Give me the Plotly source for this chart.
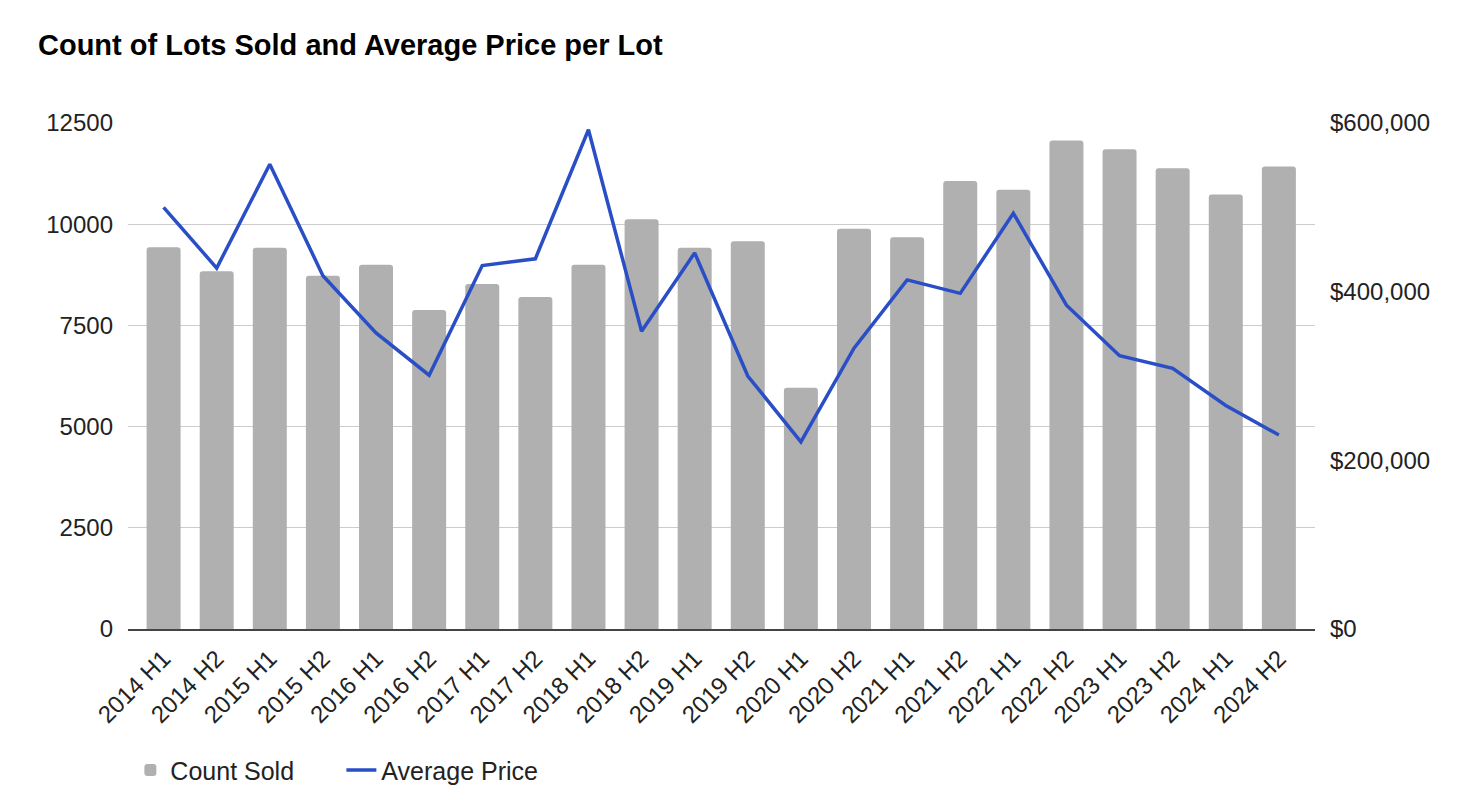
import plotly.graph_objects as go

categories = ["2014 H1", "2014 H2", "2015 H1", "2015 H2", "2016 H1", "2016 H2",
              "2017 H1", "2017 H2", "2018 H1", "2018 H2", "2019 H1", "2019 H2",
              "2020 H1", "2020 H2", "2021 H1", "2021 H2", "2022 H1", "2022 H2",
              "2023 H1", "2023 H2", "2024 H1", "2024 H2"]

count_sold = [9430, 8836, 9420, 8728, 9000, 7880,
              8523, 8200, 9000, 10121, 9420, 9580,
              5961, 9885, 9680, 11067, 10850, 12070,
              11850, 11380, 10735, 11425]

average_price = [500000, 428000, 551000, 419000, 351000, 301000,
                 431000, 439000, 592000, 353000, 446000, 300000,
                 222000, 333000, 414000, 398000, 493000, 384000,
                 324000, 309000, 265000, 230000]

left_ticks = [0, 2500, 5000, 7500, 10000, 12500]
right_ticks = [0, 200000, 400000, 600000]
right_labels = ["$" + format(v, ",") for v in right_ticks]

FONT = "Liberation Sans, Arial, sans-serif"

fig = go.Figure()
fig.add_trace(go.Bar(
    x=categories, y=count_sold, name="Count Sold",
    marker=dict(color="#b0b0b0", line=dict(width=0)),
    yaxis="y",
))
fig.add_trace(go.Scatter(
    x=categories, y=average_price, name="Average Price",
    mode="lines", line=dict(color="#2a4ec6", width=3.5),
    yaxis="y2",
))

fig.update_layout(
    width=1480, height=812,
    margin=dict(l=128, r=165, t=123, b=183),
    paper_bgcolor="white", plot_bgcolor="white",
    font=dict(family=FONT, size=24, color="#222222"),
    title=dict(text="<b>Count of Lots Sold and Average Price per Lot</b>",
               x=38/1480, xref="container", xanchor="left",
               y=1-45/812, yref="container", yanchor="middle",
               font=dict(family=FONT, size=29, color="#000000")),
    bargap=0.36,
    barcornerradius=3,
    showlegend=True,
    legend=dict(orientation="h", x=0.002, xanchor="left", y=-0.279, yanchor="middle",
                font=dict(family=FONT, size=25, color="#222222"),
                entrywidth=166, entrywidthmode="pixels",
                bgcolor="rgba(0,0,0,0)"),
    xaxis=dict(type="category", range=[-0.67, 21.68], tickangle=-45, showgrid=False,
               showline=True, linecolor="#444444", linewidth=2,
               tickfont=dict(family=FONT, size=24, color="#222222"),
               ticks="", ticklabelstandoff=4),
    yaxis=dict(range=[0, 12500], tickvals=left_ticks, tickformat="d", showgrid=True,
               gridcolor="#cccccc", gridwidth=1, zeroline=False,
               tickfont=dict(family=FONT, size=24, color="#222222"),
               ticklabelstandoff=14),
    yaxis2=dict(range=[0, 600000], tickvals=right_ticks, ticktext=right_labels,
                overlaying="y", side="right",
                showgrid=False, zeroline=False,
                tickfont=dict(family=FONT, size=24, color="#222222"),
                ticklabelstandoff=14),
)

fig.write_html("out.html")
